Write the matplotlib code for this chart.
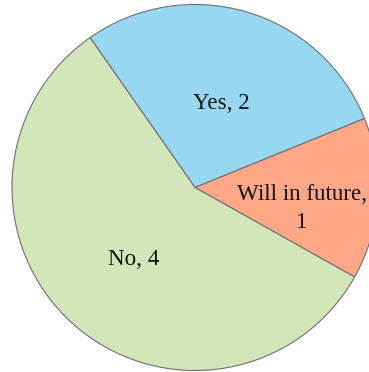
import matplotlib.pyplot as plt
import numpy as np

# survey answers
labels = ['Yes, 2', 'Will in future,\n1', 'No, 4']
values = [2, 1, 4]
colors = ['#97D7F2', '#FFA787', '#D2E6BA']

W, H = 369, 372
fig = plt.figure(figsize=(W / 100, H / 100), dpi=100)

# pie centre at ~(195, 187.5) px, radius ~183 px; right side runs off the canvas
cx, cy, r = 195, H - 187.5, 183
ax = fig.add_axes([(cx - r) / W, (cy - r) / H, 2 * r / W, 2 * r / H])

wedges, texts = ax.pie(values, labels=labels, colors=colors, startangle=125,
                       counterclock=False, labeldistance=0.5,
                       wedgeprops=dict(edgecolor='#6f6f6f', linewidth=0.8),
                       textprops=dict(family='Liberation Serif', fontsize=16.6,
                                      color='#111111', ha='center', va='center'))
for t in texts:
    t.set_horizontalalignment('center')
    t.set_multialignment('center')
    x, y = t.get_position()
    t.set_position((x, y - 0.02))
# Excel nudges the small slice label toward the right
texts[1].set_position((0.585, -0.115))
texts[1].set_linespacing(1.4)

ax.set_xlim(-1, 1)
ax.set_ylim(-1, 1)
ax.set_aspect('equal')
ax.axis('off')

fig.savefig('out.png', dpi=100)
